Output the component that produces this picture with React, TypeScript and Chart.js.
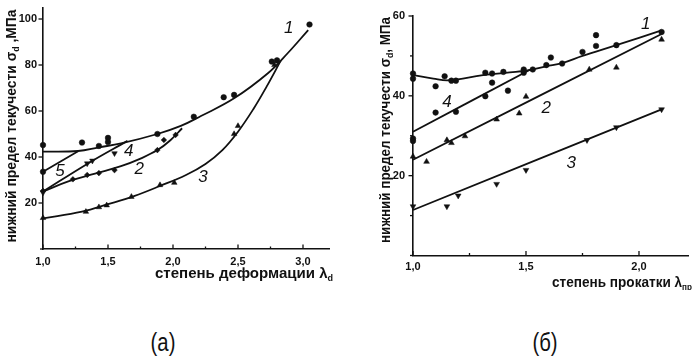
import React, { useEffect, useRef } from 'react';
import { Chart, registerables } from 'chart.js';

Chart.register(...registerables);

type P = [number, number];

// ---------- Panel (а): степень деформации ----------
const A_X_TICK_VALUES = [1, 1.5, 2, 2.5, 3];
const A_X_TICK_LABELS = ['1,0', '1,5', '2,0', '2,5', '3,0'];
const A_Y_TICK_VALUES = [20, 40, 60, 80, 100];
const A_Y_TICK_LABELS = ['20', '40', '60', '80', '100'];

const aCurve1: P[] = [[1.0, 42.3], [1.27, 42.6], [1.43, 44.2], [1.6, 45.9], [1.88, 50], [2.06, 53.5], [2.215, 57.8], [2.47, 65.5], [2.73, 76.4], [2.88, 85], [3.04, 95.2]];
const aCurve2: P[] = [[1.0, 25], [1.2, 29.5], [1.4, 32.8], [1.6, 36], [1.75, 39.3], [1.88, 43], [1.98, 47.3], [2.07, 52.5]];
const aCurve3: P[] = [[1.0, 13.3], [1.3, 16.3], [1.5, 19.5], [1.7, 23], [1.9, 27.4], [2.1, 32.2], [2.25, 37], [2.38, 43], [2.5, 51], [2.62, 61], [2.72, 70.6], [2.83, 82]];
const aCurve4: P[] = [[1.0, 25], [1.34, 37], [1.65, 47]];
const aCurve5: P[] = [[1.0, 33.6], [1.27, 42.5]];

const aPts1: P[] = [[1.0, 45.2], [1.3, 46.3], [1.43, 44.8], [1.5, 48.3], [1.5, 46.5], [1.88, 50], [2.16, 57.5], [2.39, 66], [2.47, 67], [2.76, 81.5], [2.8, 82], [3.05, 97.6]];
const aPts2: P[] = [[1.0, 25.3], [1.23, 30.3], [1.34, 32.2], [1.43, 33], [1.55, 34.3], [1.88, 43], [1.93, 47.4], [2.02, 49.6]];
const aPts3: P[] = [[1.0, 13.5], [1.33, 16.2], [1.43, 18.2], [1.49, 19], [1.68, 22.7], [1.9, 27.8], [2.01, 28.8], [2.47, 50], [2.5, 53.5], [2.78, 80]];
const aPts4: P[] = [[1.0, 24.5], [1.34, 37.2], [1.38, 38.4], [1.55, 41.6]];
const aPts5: P[] = [[1.0, 33.6]];

const aCurveNames = ['1', '2', '3', '4', '5'];
const aCurveNameAt: P[] = [[2.89, 96], [1.74, 34.7], [2.23, 31.4], [1.66, 42.3], [1.13, 34]];

// ---------- Panel (б): степень прокатки ----------
const B_X_TICK_VALUES = [1, 1.5, 2];
const B_X_TICK_LABELS = ['1,0', '1,5', '2,0'];
const B_Y_TICK_VALUES = [20, 40, 60];
const B_Y_TICK_LABELS = ['20', '40', '60'];

const bCurve1: P[] = [[1.0, 45.2], [1.09, 44.3], [1.16, 43.9], [1.31, 45.2], [1.5, 46.3], [1.59, 47.4], [1.66, 48.2], [1.75, 50.0], [1.9, 52.7], [2.1, 56.4]];
const bCurve2: P[] = [[1.0, 24], [2.1, 55.5]];
const bCurve3: P[] = [[1.0, 11.4], [2.1, 36.6]];
const bCurve4: P[] = [[1.0, 31], [1.52, 46.6]];

const bPts1: P[] = [[1.0, 45.6], [1.0, 44.3], [1.1, 42.4], [1.14, 44.9], [1.17, 43.8], [1.19, 43.8], [1.32, 45.8], [1.35, 43.3], [1.35, 45.6], [1.4, 46], [1.42, 41.3], [1.49, 46.6], [1.49, 45.8], [1.53, 46.6], [1.59, 47.7], [1.61, 49.6], [1.66, 48.1], [1.75, 51], [1.81, 52.5], [1.81, 55.2], [1.9, 52.7], [2.1, 56]];
const bPts2: P[] = [[1.0, 24.8], [1.06, 23.5], [1.15, 28.9], [1.17, 28.2], [1.23, 29.9], [1.37, 34.1], [1.47, 35.6], [1.5, 39.8], [1.78, 46.6], [1.9, 47.1], [2.1, 54.1]];
const bPts3: P[] = [[1.0, 12.3], [1.15, 12.3], [1.2, 15], [1.37, 17.9], [1.5, 21.4], [1.77, 28.9], [1.9, 32.1], [2.1, 36.6]];
const bPts4: P[] = [[1.0, 29.3], [1.0, 28.7], [1.1, 35.8], [1.19, 36], [1.32, 39.9]];

const bCurveNames = ['1', '2', '3', '4'];
const bCurveNameAt: P[] = [[2.03, 57.9], [1.59, 36.8], [1.7, 23.1], [1.15, 38.3]];

// ---------- drawing helpers ----------
const FONT = '"Liberation Sans Narrow", "Liberation Sans", Arial, sans-serif';
const INK = '#111';

type Part = { t: string; sub?: boolean };

function fitText(ctx: CanvasRenderingContext2D, parts: Part[], cx: number, cy: number, targetW: number, size: number, rotate: boolean) {
  ctx.save();
  const main = `bold ${size}px ${FONT}`;
  const sub = `bold ${Math.round(size * 0.62)}px ${FONT}`;
  let total = 0;
  const widths = parts.map((p) => {
    ctx.font = p.sub ? sub : main;
    const w = ctx.measureText(p.t).width;
    total += w;
    return w;
  });
  ctx.translate(cx, cy);
  if (rotate) ctx.rotate(-Math.PI / 2);
  ctx.scale(targetW / total, 1);
  ctx.fillStyle = INK;
  ctx.textBaseline = 'middle';
  ctx.textAlign = 'left';
  let x = -total / 2;
  parts.forEach((p, i) => {
    ctx.font = p.sub ? sub : main;
    ctx.fillText(p.t, x, p.sub ? size * 0.32 : 0);
    x += widths[i];
  });
  ctx.restore();
}

type PanelCfg = {
  w: number; h: number;
  area: { left: number; top: number; right: number; bottom: number };
  xMin: number; xMax: number; xStep: number; xVals: number[]; xLabels: string[];
  yMin: number; yMax: number; yStep: number; yVals: number[]; yLabels: string[];
  xPad: number; yPad: number;
  lines: P[][];
  markers: { pts: P[]; style: string; r: number; rot?: number }[];
  names: string[]; nameAt: P[];
  yTitle: Part[]; yTitlePos: [number, number, number];
  xTitle: Part[]; xTitlePos: [number, number, number];
};

function tickCb(vals: number[], labels: string[], step: number, min: number) {
  return (value: any) => {
    const v = Number(value);
    const i = vals.findIndex((t) => Math.abs(t - v) < 1e-6);
    if (i >= 0) return labels[i];
    const k = (v - min) / step;
    if (Math.abs(k - Math.round(k)) < 1e-6) return '';
    return null;
  };
}

function buildChart(canvas: HTMLCanvasElement, c: PanelCfg) {
  const datasets: any[] = [];
  c.lines.forEach((pts) => {
    datasets.push({
      data: pts.map(([x, y]) => ({ x, y })),
      showLine: true,
      borderColor: INK,
      borderWidth: 1.8,
      pointRadius: 0,
      tension: 0.4,
      fill: false,
      clip: false,
    });
  });
  c.markers.forEach((m) => {
    datasets.push({
      data: m.pts.map(([x, y]) => ({ x, y })),
      showLine: false,
      pointStyle: m.style,
      pointRadius: m.r,
      rotation: m.rot || 0,
      backgroundColor: INK,
      borderColor: INK,
      borderWidth: 0.5,
      clip: false,
    });
  });

  const decor = {
    id: 'decor',
    afterDraw(chart: any) {
      const ctx: CanvasRenderingContext2D = chart.ctx;
      const xs = chart.scales.x;
      const ys = chart.scales.y;
      ctx.save();
      ctx.strokeStyle = INK;
      ctx.lineWidth = 1.3;
      xs.ticks.forEach((t: any) => {
        if (t.label === null || t.label === undefined) return;
        const len = t.label === '' ? 2.5 : 4.5;
        const px = xs.getPixelForValue(t.value);
        ctx.beginPath();
        ctx.moveTo(px, xs.top);
        ctx.lineTo(px, xs.top - len);
        ctx.stroke();
      });
      ys.ticks.forEach((t: any) => {
        if (t.label === null || t.label === undefined) return;
        const len = t.label === '' ? 3 : 4.5;
        const py = ys.getPixelForValue(t.value);
        ctx.beginPath();
        ctx.moveTo(ys.right, py);
        ctx.lineTo(ys.right - len, py);
        ctx.stroke();
      });
      ctx.restore();
      ctx.save();
      ctx.fillStyle = INK;
      ctx.font = `italic 17px "Liberation Sans", Arial, sans-serif`;
      ctx.textAlign = 'center';
      ctx.textBaseline = 'middle';
      c.names.forEach((n, i) => {
        const [vx, vy] = c.nameAt[i];
        ctx.fillText(n, xs.getPixelForValue(vx), ys.getPixelForValue(vy));
      });
      ctx.restore();
      fitText(ctx, c.yTitle, c.yTitlePos[0], c.yTitlePos[1], c.yTitlePos[2], 14, true);
      fitText(ctx, c.xTitle, c.xTitlePos[0], c.xTitlePos[1], c.xTitlePos[2], 15, false);
    },
  };

  const tickFont = { family: FONT, size: 11, weight: 'bold' as const };

  return new Chart(canvas, {
    type: 'scatter',
    data: { datasets },
    options: {
      animation: false,
      responsive: false,
      devicePixelRatio: 1,
      events: [],
      layout: {
        padding: { left: 0, top: c.area.top, right: c.w - c.area.right, bottom: 0 },
      },
      plugins: { legend: { display: false }, tooltip: { enabled: false } },
      scales: {
        x: {
          type: 'linear',
          min: c.xMin,
          max: c.xMax,
          grid: { display: true, drawOnChartArea: false, drawTicks: false, color: 'rgba(0,0,0,0)' },
          border: { display: true, color: INK, width: 1.6 },
          ticks: {
            stepSize: c.xStep,
            includeBounds: false,
            autoSkip: false,
            maxRotation: 0,
            padding: c.xPad,
            color: INK,
            font: tickFont,
            callback: tickCb(c.xVals, c.xLabels, c.xStep, c.xMin),
          },
          afterFit: (s: any) => {
            s.height = c.h - c.area.bottom;
            s.paddingLeft = 0; s.paddingRight = 0; s.paddingTop = 0; s.paddingBottom = 0;
          },
        },
        y: {
          type: 'linear',
          min: c.yMin,
          max: c.yMax,
          grid: { display: true, drawOnChartArea: false, drawTicks: false, color: 'rgba(0,0,0,0)' },
          border: { display: true, color: INK, width: 1.6 },
          ticks: {
            stepSize: c.yStep,
            includeBounds: false,
            autoSkip: false,
            padding: c.yPad,
            color: INK,
            font: tickFont,
            callback: tickCb(c.yVals, c.yLabels, c.yStep, c.yMin),
          },
          afterFit: (s: any) => {
            s.width = c.area.left;
            s.paddingLeft = 0; s.paddingRight = 0; s.paddingTop = 0; s.paddingBottom = 0;
          },
        },
      },
    } as any,
    plugins: [decor],
  });
}

const cfgA: PanelCfg = {
  w: 340, h: 290,
  area: { left: 43, top: 7.5, right: 329, bottom: 249 },
  xMin: 1, xMax: 3.2, xStep: 0.25, xVals: A_X_TICK_VALUES, xLabels: A_X_TICK_LABELS,
  yMin: 0, yMax: 105, yStep: 20, yVals: A_Y_TICK_VALUES, yLabels: A_Y_TICK_LABELS,
  xPad: 6, yPad: 6,
  lines: [aCurve1, aCurve2, aCurve3, aCurve4, aCurve5],
  markers: [
    { pts: aPts1, style: 'circle', r: 2.8 },
    { pts: aPts2, style: 'rectRot', r: 2.8 },
    { pts: aPts3, style: 'triangle', r: 3.2 },
    { pts: aPts4, style: 'triangle', r: 3.2, rot: 180 },
    { pts: aPts5, style: 'circle', r: 2.8 },
  ],
  names: aCurveNames, nameAt: aCurveNameAt,
  yTitle: [{ t: 'нижний предел текучести σ' }, { t: 'd', sub: true }, { t: ' ,МПа' }],
  yTitlePos: [12.5, 126, 233],
  xTitle: [{ t: 'степень деформации λ' }, { t: 'd', sub: true }],
  xTitlePos: [244, 274, 178],
};

const cfgB: PanelCfg = {
  w: 334, h: 290,
  area: { left: 53, top: 16, right: 328.7, bottom: 255.5 },
  xMin: 1, xMax: 2.22, xStep: 0.25, xVals: B_X_TICK_VALUES, xLabels: B_X_TICK_LABELS,
  yMin: 0, yMax: 60, yStep: 10, yVals: B_Y_TICK_VALUES, yLabels: B_Y_TICK_LABELS,
  xPad: 5, yPad: 8,
  lines: [bCurve1, bCurve2, bCurve3, bCurve4],
  markers: [
    { pts: bPts1, style: 'circle', r: 2.8 },
    { pts: bPts2, style: 'triangle', r: 3.3 },
    { pts: bPts3, style: 'triangle', r: 3.3, rot: 180 },
    { pts: bPts4, style: 'circle', r: 2.8 },
  ],
  names: bCurveNames, nameAt: bCurveNameAt,
  yTitle: [{ t: 'нижний предел текучести σ' }, { t: 'd', sub: true }, { t: ', МПа' }],
  yTitlePos: [26, 130, 226],
  xTitle: [{ t: 'степень прокатки λ' }, { t: 'пр', sub: true }],
  xTitlePos: [262, 283, 140],
};

export default function App() {
  const refA = useRef<HTMLCanvasElement | null>(null);
  const refB = useRef<HTMLCanvasElement | null>(null);

  useEffect(() => {
    const a = refA.current ? buildChart(refA.current, cfgA) : null;
    const b = refB.current ? buildChart(refB.current, cfgB) : null;
    return () => {
      a && a.destroy();
      b && b.destroy();
    };
  }, []);

  const cap: React.CSSProperties = {
    position: 'absolute',
    top: 327,
    width: 60,
    textAlign: 'center',
    fontFamily: FONT,
    fontSize: 26,
    lineHeight: '30px',
    color: INK,
    transform: 'scaleX(0.78)',
  };

  return (
    <div style={{ position: 'absolute', left: 0, top: 0, width: 694, height: 362, background: '#fff', overflow: 'hidden' }}>
      <canvas ref={refA} width={340} height={290} style={{ position: 'absolute', left: 0, top: 0, width: 340, height: 290 }} />
      <canvas ref={refB} width={334} height={290} style={{ position: 'absolute', left: 360, top: 0, width: 334, height: 290 }} />
      <div style={{ ...cap, left: 133 }}>(а)</div>
      <div style={{ ...cap, left: 515 }}>(б)</div>
    </div>
  );
}
